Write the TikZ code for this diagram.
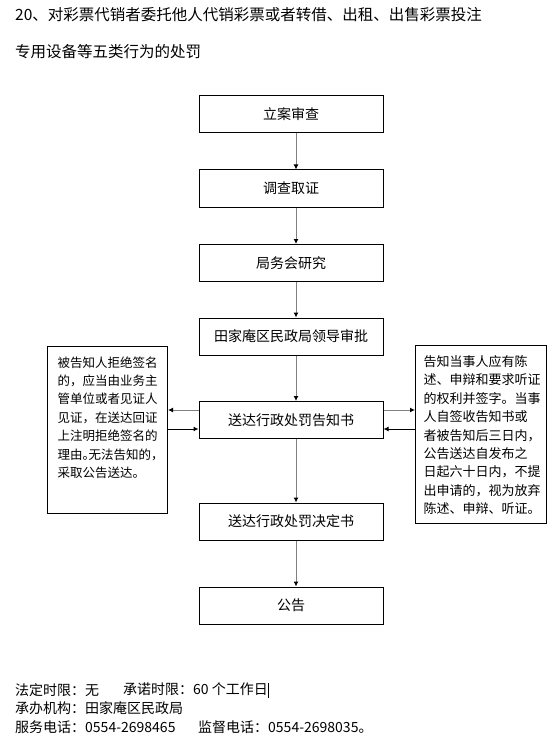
\documentclass[tikz,border=0pt]{standalone}
\usepackage{fontspec}
\setmainfont{Noto Sans CJK SC}
\usetikzlibrary{arrows.meta,positioning}

\begin{document}
\begin{tikzpicture}[x=1pt,y=-1pt,
  flowbox/.style={draw, line width=1pt, minimum width=184pt, minimum height=37pt,
    inner sep=0pt, font=\fontsize{14}{16}\selectfont},
  sidebox/.style={draw, line width=1pt, anchor=north west, inner ysep=0pt},
  arr/.style={-{Latex[length=5pt,width=5pt,color=black]}, draw=gray, line width=1pt},
  arrb/.style={-{Latex[length=5pt,width=5pt]}, draw=black, line width=1pt}]
\useasboundingbox (0,0) rectangle (552,754);

% Title
\begin{scope}[every node/.style={anchor=west, inner sep=0pt, font=\fontsize{15.5}{18}\selectfont}]
\node (t1) at (15,15) {20、对彩票代销者委托他人代销彩票或者转借、出租、出售彩票投注};
\node (t2) at (15,52) {专用设备等五类行为的处罚};
\end{scope}

% Main flow
\node[flowbox] (b1) at (291,114) {立案审查};
\node[flowbox] (b2) at (291,188.5) {调查取证};
\node[flowbox] (b3) at (291,263) {局务会研究};
\node[flowbox] (b4) at (291,336.5) {田家庵区民政局领导审批};
\node[flowbox] (b5) at (291,420) {送达行政处罚告知书};
\node[flowbox] (b6) at (291,521.5) {送达行政处罚决定书};
\node[flowbox] (b7) at (291,605.5) {公告};

\foreach \a/\b in {b1/b2, b2/b3, b3/b4, b4/b5, b5/b6, b6/b7}
  \draw[arr] ([xshift=5pt]\a.south) -- ([xshift=5pt]\b.north);

% Side notes
\node[sidebox, inner xsep=10pt, font=\fontsize{12.5}{18.4}\selectfont] (sideL) at (47,346)
  {\parbox[c][167pt][t]{100pt}{\vspace{10pt}被告知人拒绝签名\\的，应当由业务主\\管单位或者见证人\\见证，在送达回证\\上注明拒绝签名的\\理由\makebox[6pt][l]{。}无法告知的，\\采取公告送达。}};
\node[sidebox, inner xsep=8pt, font=\fontsize{13}{18.4}\selectfont] (sideR) at (415,345)
  {\parbox[c][178pt][t]{115pt}{\vspace{10pt}告知当事人应有陈\\述、申辩和要求听证\\的权利并签字。当事\\人自签收告知书或\\者被告知后三日内，\\公告送达自发布之\\日起六十日内，不提\\出申请的，视为放弃\\陈述、申辩、听证。}};

\coordinate (l1) at ([yshift=10pt]b5.west);
\coordinate (l2) at ([yshift=-9pt]b5.west);
\coordinate (r1) at ([yshift=10pt]b5.east);
\coordinate (r2) at ([yshift=-9pt]b5.east);
\draw[arr] (l1) -- (l1 -| sideL.east);
\draw[arrb] (l2 -| sideL.east) -- (l2);
\draw[arr] (r1) -- (r1 -| sideR.west);
\draw[arrb] (r2 -| sideR.west) -- (r2);

% Footer
\begin{scope}[every node/.style={anchor=west, inner sep=0pt, font=\fontsize{14}{16}\selectfont}]
\node (f1) at (15,690) {法定时限：无};
\node (f2) at (123,690) {承诺时限：60 个工作日\rule[-3pt]{1.5pt}{15pt}};
\node (f3) at (15,708) {承办机构：田家庵区民政局};
\node (f4) at (15,727) {服务电话：0554-2698465};
\node (f5) at (198,727) {监督电话：0554-2698035。};
\end{scope}
\end{tikzpicture}
\end{document}
